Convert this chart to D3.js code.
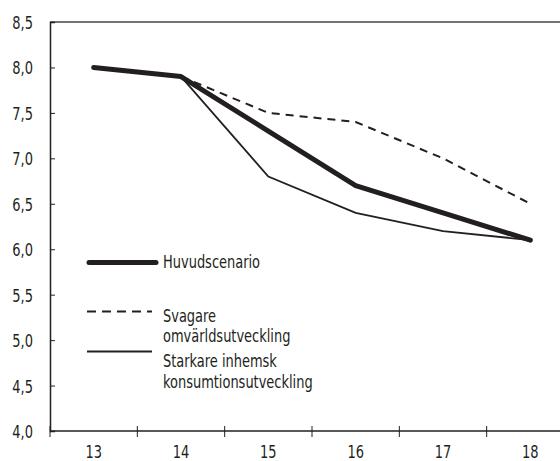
<!DOCTYPE html>
<html><head><meta charset="utf-8">
<script src="https://cdn.jsdelivr.net/npm/d3@7"></script>
<style>
html,body{margin:0;padding:0;background:#fff;}
svg text{font-family:"DejaVu Sans","Liberation Sans",sans-serif;font-stretch:condensed;fill:#231f20;}
</style></head>
<body>
<svg id="chart" width="560" height="461"></svg>
<script>
const categories = ["13","14","15","16","17","18"];
const huvudscenario = [8.0, 7.9, 7.3, 6.7, 6.4, 6.1];
const svagare = [null, 7.9, 7.5, 7.4, 7.0, 6.5];
const starkare = [null, 7.9, 6.8, 6.4, 6.2, 6.1];
const yTicks = [4.0, 4.5, 5.0, 5.5, 6.0, 6.5, 7.0, 7.5, 8.0, 8.5];
const legendLabels = [["Huvudscenario"], ["Svagare", "omvärldsutveckling"], ["Starkare inhemsk", "konsumtionsutveckling"]];

(function(){
const svg = d3.select("#chart");
const pLeft = 50, pRight = 574, pTop = 22, pBottom = 431;
const x = d3.scaleBand().domain(categories).range([pLeft, pRight]);
const y = d3.scaleLinear().domain([4, 8.5]).range([pBottom, pTop]);
const ink = "#231f20";
const FS = 18.5, SX = 0.78;

function label(parent, tx, ty, str, anchor) {
  parent.append("g").attr("transform", `translate(${tx},${ty}) scale(${SX},1)`)
    .append("text").attr("font-size", FS).attr("text-anchor", anchor || "start").text(str);
}

// top border
svg.append("line").attr("x1", pLeft).attr("x2", pRight).attr("y1", pTop).attr("y2", pTop)
  .attr("stroke", "#444").attr("stroke-width", 1.3);

// y axis
const yAxis = d3.axisRight(y).tickValues(yTicks).tickSize(5).tickFormat(() => "");
const gy = svg.append("g").attr("transform", `translate(${pLeft},0)`).call(yAxis);
gy.select(".domain").attr("stroke", ink).attr("stroke-width", 1.5);
gy.selectAll(".tick line").attr("stroke", ink).attr("stroke-width", 1);
const gyl = svg.append("g");
yTicks.forEach(d => label(gyl, 33, y(d) + 7, d3.format(".1f")(d).replace(".", ","), "end"));

// x axis
const gx = svg.append("g").attr("transform", `translate(0,${pBottom})`);
gx.append("line").attr("x1", pLeft).attr("x2", pRight).attr("stroke", ink).attr("stroke-width", 1.5);
gx.selectAll(".tk").data(categories).join("line").attr("class", "tk")
  .attr("x1", d => x(d)).attr("x2", d => x(d)).attr("y1", -5).attr("y2", 6)
  .attr("stroke", ink).attr("stroke-width", 1);
categories.forEach(c => label(gx, x(c) + x.bandwidth() / 2, 27, c, "middle"));

const line = d3.line().defined(d => d.v != null)
  .x(d => x(d.c) + x.bandwidth() / 2).y(d => y(d.v));
const mk = arr => categories.map((c, i) => ({c, v: arr[i]}));

svg.append("path").datum(mk(svagare)).attr("d", line).attr("fill", "none")
  .attr("stroke", ink).attr("stroke-width", 2).attr("stroke-dasharray", "8,6");
svg.append("path").datum(mk(starkare)).attr("d", line).attr("fill", "none")
  .attr("stroke", ink).attr("stroke-width", 1.8);
svg.append("path").datum(mk(huvudscenario)).attr("d", line).attr("fill", "none")
  .attr("stroke", ink).attr("stroke-width", 5).attr("stroke-linecap", "round").attr("stroke-linejoin", "round");

// legend
const lg = svg.append("g");
lg.append("line").attr("x1", 89).attr("x2", 156).attr("y1", 262.5).attr("y2", 262.5)
  .attr("stroke", ink).attr("stroke-width", 5).attr("stroke-linecap", "round");
label(lg, 163, 268, legendLabels[0][0]);
lg.append("line").attr("x1", 87).attr("x2", 152).attr("y1", 311.5).attr("y2", 311.5)
  .attr("stroke", ink).attr("stroke-width", 2).attr("stroke-dasharray", "9,6");
label(lg, 163, 322, legendLabels[1][0]);
label(lg, 163, 342, legendLabels[1][1]);
lg.append("line").attr("x1", 87).attr("x2", 152).attr("y1", 351.5).attr("y2", 351.5)
  .attr("stroke", ink).attr("stroke-width", 1.8);
label(lg, 163, 367, legendLabels[2][0]);
label(lg, 163, 388, legendLabels[2][1]);
})();
</script>
</body></html>
